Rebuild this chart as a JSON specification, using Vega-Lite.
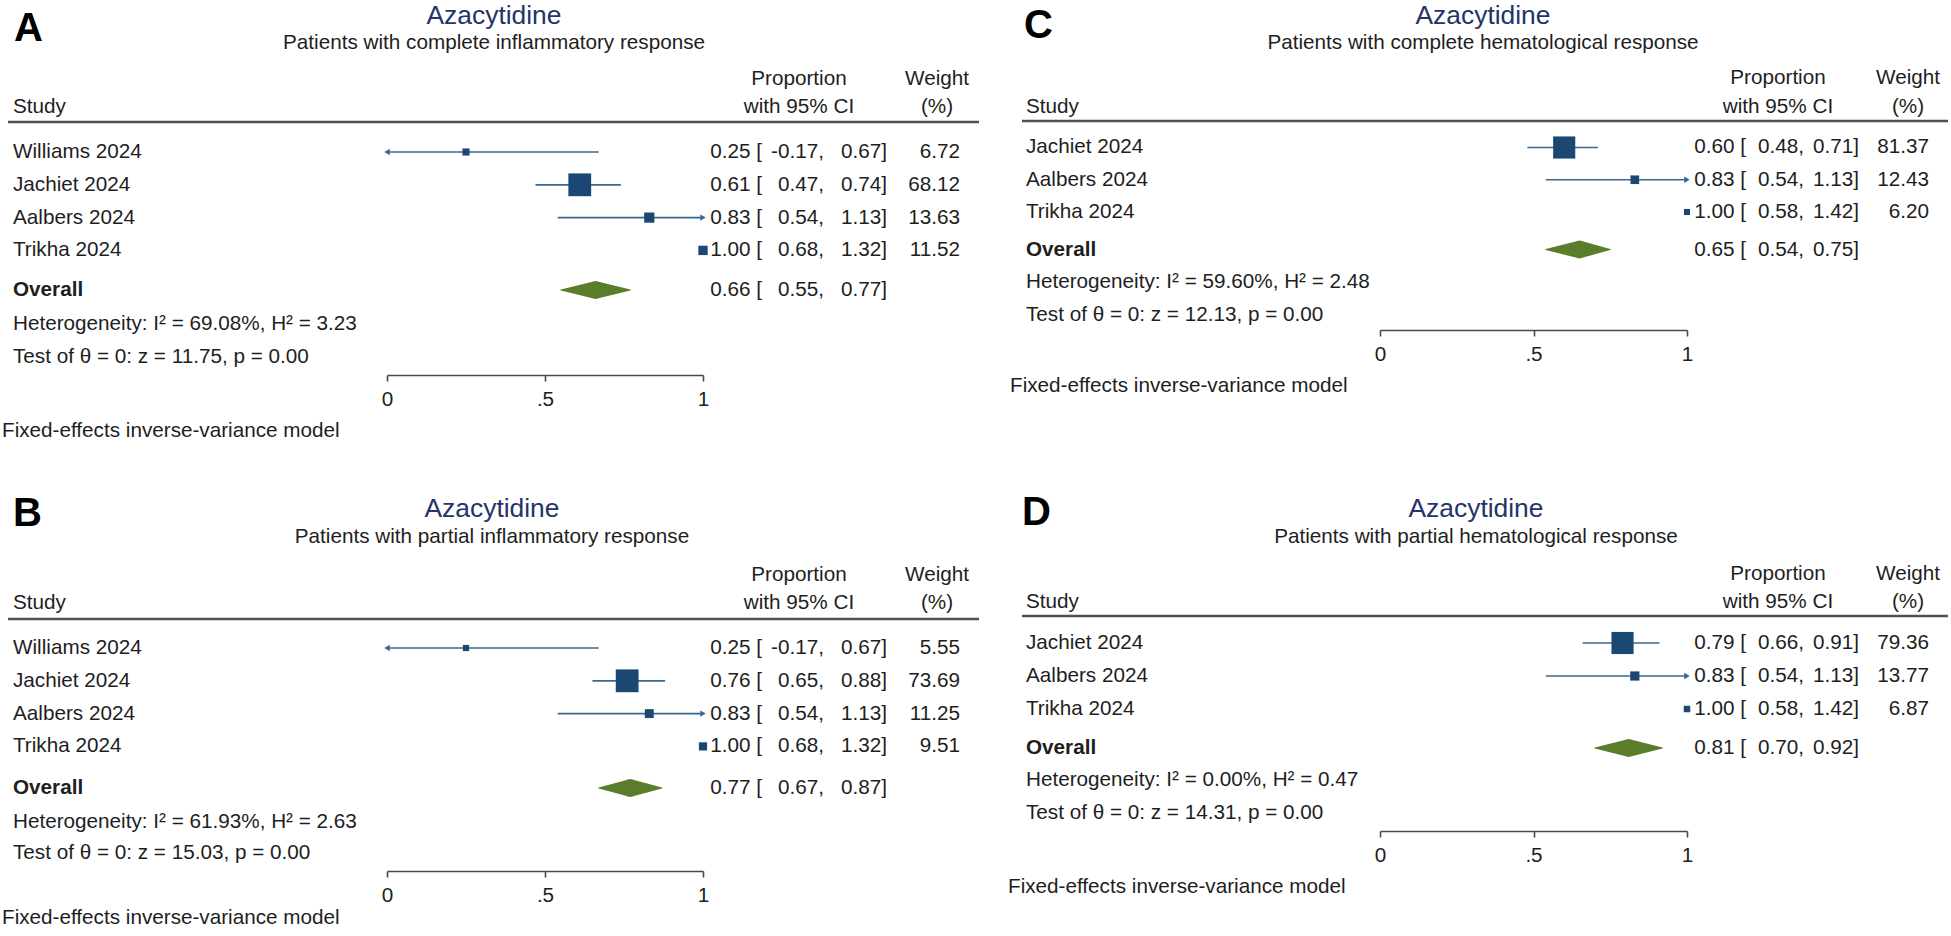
{
"$schema": "https://vega.github.io/schema/vega-lite/v6.json",
"padding": 0,
"background": "white",
"columns": 6,
"spacing": {"row": 121, "column": 0},
"bounds": "flush",
"align": "each",
"datasets": {
"sA": [
{"study":"Williams 2024","row":1,"est":0.25,"lo":-0.17,"hi":0.67,"w":6.72,"e":"0.25 [","l":"-0.17,","u":"0.67]"},
{"study":"Jachiet 2024","row":2,"est":0.61,"lo":0.47,"hi":0.74,"w":68.12,"e":"0.61 [","l":"0.47,","u":"0.74]"},
{"study":"Aalbers 2024","row":3,"est":0.83,"lo":0.54,"hi":1.13,"w":13.63,"e":"0.83 [","l":"0.54,","u":"1.13]"},
{"study":"Trikha 2024","row":4,"est":1.00,"lo":0.68,"hi":1.32,"w":11.52,"e":"1.00 [","l":"0.68,","u":"1.32]"}
],
"oA": [{"name":"Overall","est":0.66,"lo":0.55,"hi":0.77,"e":"0.66 [","l":"0.55,","u":"0.77]","het":"Heterogeneity: I² = 69.08%, H² = 3.23","test":"Test of θ = 0: z = 11.75, p = 0.00","title":"Azacytidine","sub":"Patients with complete inflammatory response","letter":"A","fixed":"Fixed-effects inverse-variance model"}],
"sB": [
{"study":"Williams 2024","row":1,"est":0.25,"lo":-0.17,"hi":0.67,"w":5.55,"e":"0.25 [","l":"-0.17,","u":"0.67]"},
{"study":"Jachiet 2024","row":2,"est":0.76,"lo":0.65,"hi":0.88,"w":73.69,"e":"0.76 [","l":"0.65,","u":"0.88]"},
{"study":"Aalbers 2024","row":3,"est":0.83,"lo":0.54,"hi":1.13,"w":11.25,"e":"0.83 [","l":"0.54,","u":"1.13]"},
{"study":"Trikha 2024","row":4,"est":1.00,"lo":0.68,"hi":1.32,"w":9.51,"e":"1.00 [","l":"0.68,","u":"1.32]"}
],
"oB": [{"name":"Overall","est":0.77,"lo":0.67,"hi":0.87,"e":"0.77 [","l":"0.67,","u":"0.87]","het":"Heterogeneity: I² = 61.93%, H² = 2.63","test":"Test of θ = 0: z = 15.03, p = 0.00","title":"Azacytidine","sub":"Patients with partial inflammatory response","letter":"B","fixed":"Fixed-effects inverse-variance model"}],
"sC": [
{"study":"Jachiet 2024","row":1,"est":0.60,"lo":0.48,"hi":0.71,"w":81.37,"e":"0.60 [","l":"0.48,","u":"0.71]"},
{"study":"Aalbers 2024","row":2,"est":0.83,"lo":0.54,"hi":1.13,"w":12.43,"e":"0.83 [","l":"0.54,","u":"1.13]"},
{"study":"Trikha 2024","row":3,"est":1.00,"lo":0.58,"hi":1.42,"w":6.20,"e":"1.00 [","l":"0.58,","u":"1.42]"}
],
"oC": [{"name":"Overall","est":0.65,"lo":0.54,"hi":0.75,"e":"0.65 [","l":"0.54,","u":"0.75]","het":"Heterogeneity: I² = 59.60%, H² = 2.48","test":"Test of θ = 0: z = 12.13, p = 0.00","title":"Azacytidine","sub":"Patients with complete hematological response","letter":"C","fixed":"Fixed-effects inverse-variance model"}],
"sD": [
{"study":"Jachiet 2024","row":1,"est":0.79,"lo":0.66,"hi":0.91,"w":79.36,"e":"0.79 [","l":"0.66,","u":"0.91]"},
{"study":"Aalbers 2024","row":2,"est":0.83,"lo":0.54,"hi":1.13,"w":13.77,"e":"0.83 [","l":"0.54,","u":"1.13]"},
{"study":"Trikha 2024","row":3,"est":1.00,"lo":0.58,"hi":1.42,"w":6.87,"e":"1.00 [","l":"0.58,","u":"1.42]"}
],
"oD": [{"name":"Overall","est":0.81,"lo":0.70,"hi":0.92,"e":"0.81 [","l":"0.70,","u":"0.92]","het":"Heterogeneity: I² = 0.00%, H² = 0.47","test":"Test of θ = 0: z = 14.31, p = 0.00","title":"Azacytidine","sub":"Patients with partial hematological response","letter":"D","fixed":"Fixed-effects inverse-variance model"}]
},
"concat": [
{"width": 387, "height": 375, "layer": [
{"data": {"name": "sA"}, "mark": {"type": "text", "align": "left"},
"encoding": {"x": {"datum": -1.18354, "type": "quantitative", "scale": {"domain": [-1.224684, 0], "nice": false, "zero": false}, "axis": null}, "y": {"field": "row", "type": "quantitative", "scale": {"domain": [-3.63415, 7.79878], "reverse": true, "nice": false, "zero": false}, "axis": null}, "text": {"field": "study"}}},
{"data": {"name": "oA"}, "mark": {"type": "text", "align": "left", "fontWeight": "bold"},
"encoding": {"x": {"datum": -1.18354, "type": "quantitative", "axis": null}, "y": {"datum": 5.2073, "type": "quantitative", "axis": null}, "text": {"field": "name"}}},
{"data": {"name": "oA"}, "mark": {"type": "text", "align": "left"},
"encoding": {"x": {"datum": -1.18354, "type": "quantitative", "axis": null}, "y": {"datum": 6.2439, "type": "quantitative", "axis": null}, "text": {"field": "het"}}},
{"data": {"name": "oA"}, "mark": {"type": "text", "align": "left"},
"encoding": {"x": {"datum": -1.18354, "type": "quantitative", "axis": null}, "y": {"datum": 7.25, "type": "quantitative", "axis": null}, "text": {"field": "test"}}},
{"data": {"name": "oA"}, "mark": {"type": "text", "align": "left", "text": "Study"},
"encoding": {"x": {"datum": -1.18354, "type": "quantitative", "axis": null}, "y": {"datum": -0.372, "type": "quantitative", "axis": null}}},
{"data": {"name": "oA"}, "mark": {"type": "rule", "color": "#505050", "strokeWidth": 2.6},
"encoding": {"x": {"datum": -1.19937, "type": "quantitative", "axis": null}, "x2": {"datum": 1.87342}, "y": {"datum": 0.0854, "type": "quantitative", "axis": null}}},
{"data": {"name": "oA"}, "mark": {"type": "text", "align": "center", "fontSize": 26.4, "color": "#253468"},
"encoding": {"x": {"datum": 0.33861, "type": "quantitative", "axis": null}, "y": {"datum": -3.1463, "type": "quantitative", "axis": null}, "text": {"field": "title"}}},
{"data": {"name": "oA"}, "mark": {"type": "text", "align": "center"},
"encoding": {"x": {"datum": 0.33861, "type": "quantitative", "axis": null}, "y": {"datum": -2.3232, "type": "quantitative", "axis": null}, "text": {"field": "sub"}}},
{"data": {"name": "oA"}, "mark": {"type": "text", "align": "left", "fontSize": 40, "fontWeight": "bold", "color": "#000000"},
"encoding": {"x": {"datum": -1.18038, "type": "quantitative", "axis": null}, "y": {"datum": -2.75, "type": "quantitative", "axis": null}, "text": {"field": "letter"}}},
{"data": {"name": "oA"}, "mark": {"type": "text", "align": "left"},
"encoding": {"x": {"datum": -1.21835, "type": "quantitative", "axis": null}, "y": {"datum": 9.506, "type": "quantitative", "axis": null}, "text": {"field": "fixed"}}},
{"data": {"name": "oA"}, "transform": [{"fold": ["lo", "est", "hi"]}],
"mark": {"type": "trail", "color": "#5a7d2c"},
"encoding": {"x": {"field": "value", "type": "quantitative", "axis": null}, "y": {"datum": 5.2073, "type": "quantitative", "axis": null}, "size": {"field": "value", "type": "quantitative", "scale": {"type": "quantize", "zero": false, "nice": false, "range": [0, 18, 0]}, "legend": null}}}
]},
{"width": 316, "height": 375, "layer": [
{"data": {"name": "sA"}, "transform": [{"filter": "datum.est < 1"}],
"mark": {"type": "rule", "color": "#3a6892", "strokeWidth": 1.7},
"encoding": {
"x": {"field": "lo", "type": "quantitative", "scale": {"domain": [0, 1], "clamp": true, "nice": false, "zero": false},
"axis": {"values": [0, 0.5, 1], "labelExpr": "datum.value == 0.5 ? '.5' : (datum.value == 0 ? '0' : '1')", "title": null, "grid": false, "domainColor": "#4a4a4a", "domainWidth": 1.6, "tickColor": "#4a4a4a", "tickWidth": 1.6, "tickSize": 6, "labelFont": "Liberation Sans", "labelFontSize": 20.7, "labelColor": "#1e1e1e", "labelPadding": 8, "labelFlush": false, "labelOverlap": false}},
"x2": {"field": "hi"},
"y": {"field": "row", "type": "quantitative", "scale": {"domain": [-3.63415, 7.79878], "reverse": true, "nice": false, "zero": false}, "axis": null}}},
{"data": {"name": "sA"}, "transform": [{"filter": "datum.lo < 0"}],
"mark": {"type": "point", "shape": "triangle-left", "filled": true, "opacity": 1, "color": "#3a6892", "size": 40},
"encoding": {"x": {"field": "lo", "type": "quantitative"}, "y": {"field": "row", "type": "quantitative"}}},
{"data": {"name": "sA"}, "transform": [{"filter": "datum.hi > 1 && datum.est < 1"}],
"mark": {"type": "point", "shape": "triangle-right", "filled": true, "opacity": 1, "color": "#3a6892", "size": 40},
"encoding": {"x": {"field": "hi", "type": "quantitative"}, "y": {"field": "row", "type": "quantitative"}}},
{"data": {"name": "sA"},
"mark": {"type": "point", "shape": "square", "filled": true, "opacity": 1, "color": "#1a4872"},
"encoding": {"x": {"field": "est", "type": "quantitative"}, "y": {"field": "row", "type": "quantitative"}, "size": {"field": "w", "type": "quantitative", "scale": {"range": [0, 520], "zero": true, "nice": false}, "legend": null}}}
]},
{"width": 305, "height": 375, "layer": [
{"data": {"name": "sA"}, "mark": {"type": "text", "align": "right"},
"encoding": {"x": {"datum": 1.18671, "type": "quantitative", "scale": {"domain": [1, 1.96519], "nice": false, "zero": false}, "axis": null}, "y": {"field": "row", "type": "quantitative", "scale": {"domain": [-3.63415, 7.79878], "reverse": true, "nice": false, "zero": false}, "axis": null}, "text": {"field": "e"}}},
{"data": {"name": "sA"}, "mark": {"type": "text", "align": "right"},
"encoding": {"x": {"datum": 1.38291, "type": "quantitative", "axis": null}, "y": {"field": "row", "type": "quantitative", "axis": null}, "text": {"field": "l"}}},
{"data": {"name": "sA"}, "mark": {"type": "text", "align": "right"},
"encoding": {"x": {"datum": 1.58228, "type": "quantitative", "axis": null}, "y": {"field": "row", "type": "quantitative", "axis": null}, "text": {"field": "u"}}},
{"data": {"name": "sA"}, "mark": {"type": "text", "align": "right"},
"encoding": {"x": {"datum": 1.81329, "type": "quantitative", "axis": null}, "y": {"field": "row", "type": "quantitative", "axis": null}, "text": {"field": "w", "type": "quantitative", "format": ".2f"}}},
{"data": {"name": "oA"}, "mark": {"type": "text", "align": "right"},
"encoding": {"x": {"datum": 1.18671, "type": "quantitative", "axis": null}, "y": {"datum": 5.2073, "type": "quantitative", "axis": null}, "text": {"field": "e"}}},
{"data": {"name": "oA"}, "mark": {"type": "text", "align": "right"},
"encoding": {"x": {"datum": 1.38291, "type": "quantitative", "axis": null}, "y": {"datum": 5.2073, "type": "quantitative", "axis": null}, "text": {"field": "l"}}},
{"data": {"name": "oA"}, "mark": {"type": "text", "align": "right"},
"encoding": {"x": {"datum": 1.58228, "type": "quantitative", "axis": null}, "y": {"datum": 5.2073, "type": "quantitative", "axis": null}, "text": {"field": "u"}}},
{"data": {"name": "oA"}, "mark": {"type": "text", "align": "center", "text": "Proportion"},
"encoding": {"x": {"datum": 1.3038, "type": "quantitative", "axis": null}, "y": {"datum": -1.2256, "type": "quantitative", "axis": null}}},
{"data": {"name": "oA"}, "mark": {"type": "text", "align": "center", "text": "with 95% CI"},
"encoding": {"x": {"datum": 1.3038, "type": "quantitative", "axis": null}, "y": {"datum": -0.372, "type": "quantitative", "axis": null}}},
{"data": {"name": "oA"}, "mark": {"type": "text", "align": "center", "text": "Weight"},
"encoding": {"x": {"datum": 1.74051, "type": "quantitative", "axis": null}, "y": {"datum": -1.2256, "type": "quantitative", "axis": null}}},
{"data": {"name": "oA"}, "mark": {"type": "text", "align": "center", "text": "(%)"},
"encoding": {"x": {"datum": 1.74051, "type": "quantitative", "axis": null}, "y": {"datum": -0.372, "type": "quantitative", "axis": null}}}
]},
{"width": 372, "height": 330, "layer": [
{"data": {"name": "sC"}, "mark": {"type": "text", "align": "left"},
"encoding": {"x": {"datum": -1.15309, "type": "quantitative", "scale": {"domain": [-1.211726, 0], "nice": false, "zero": false}, "axis": null}, "y": {"field": "row", "type": "quantitative", "scale": {"domain": [-3.5736, 6.6589], "reverse": true, "nice": false, "zero": false}, "axis": null}, "text": {"field": "study"}}},
{"data": {"name": "oC"}, "mark": {"type": "text", "align": "left", "fontWeight": "bold"},
"encoding": {"x": {"datum": -1.15309, "type": "quantitative", "axis": null}, "y": {"datum": 4.1628, "type": "quantitative", "axis": null}, "text": {"field": "name"}}},
{"data": {"name": "oC"}, "mark": {"type": "text", "align": "left"},
"encoding": {"x": {"datum": -1.15309, "type": "quantitative", "axis": null}, "y": {"datum": 5.1705, "type": "quantitative", "axis": null}, "text": {"field": "het"}}},
{"data": {"name": "oC"}, "mark": {"type": "text", "align": "left"},
"encoding": {"x": {"datum": -1.15309, "type": "quantitative", "axis": null}, "y": {"datum": 6.1938, "type": "quantitative", "axis": null}, "text": {"field": "test"}}},
{"data": {"name": "oC"}, "mark": {"type": "text", "align": "left", "text": "Study"},
"encoding": {"x": {"datum": -1.15309, "type": "quantitative", "axis": null}, "y": {"datum": -0.2558, "type": "quantitative", "axis": null}}},
{"data": {"name": "oC"}, "mark": {"type": "rule", "color": "#505050", "strokeWidth": 2.6},
"encoding": {"x": {"datum": -1.16612, "type": "quantitative", "axis": null}, "x2": {"datum": 1.85016}, "y": {"datum": 0.1783, "type": "quantitative", "axis": null}}},
{"data": {"name": "oC"}, "mark": {"type": "text", "align": "center", "fontSize": 26.4, "color": "#253468"},
"encoding": {"x": {"datum": 0.3355, "type": "quantitative", "axis": null}, "y": {"datum": -3.0775, "type": "quantitative", "axis": null}, "text": {"field": "title"}}},
{"data": {"name": "oC"}, "mark": {"type": "text", "align": "center"},
"encoding": {"x": {"datum": 0.3355, "type": "quantitative", "axis": null}, "y": {"datum": -2.2403, "type": "quantitative", "axis": null}, "text": {"field": "sub"}}},
{"data": {"name": "oC"}, "mark": {"type": "text", "align": "left", "fontSize": 40, "fontWeight": "bold", "color": "#000000"},
"encoding": {"x": {"datum": -1.15961, "type": "quantitative", "axis": null}, "y": {"datum": -2.7674, "type": "quantitative", "axis": null}, "text": {"field": "letter"}}},
{"data": {"name": "oC"}, "mark": {"type": "text", "align": "left"},
"encoding": {"x": {"datum": -1.20521, "type": "quantitative", "axis": null}, "y": {"datum": 8.3953, "type": "quantitative", "axis": null}, "text": {"field": "fixed"}}},
{"data": {"name": "oC"}, "transform": [{"fold": ["lo", "est", "hi"]}],
"mark": {"type": "trail", "color": "#5a7d2c"},
"encoding": {"x": {"field": "value", "type": "quantitative", "axis": null}, "y": {"datum": 4.1628, "type": "quantitative", "axis": null}, "size": {"field": "value", "type": "quantitative", "scale": {"type": "quantize", "zero": false, "nice": false, "range": [0, 18, 0]}, "legend": null}}}
]},
{"width": 307, "height": 330, "layer": [
{"data": {"name": "sC"}, "transform": [{"filter": "datum.est < 1"}],
"mark": {"type": "rule", "color": "#3a6892", "strokeWidth": 1.7},
"encoding": {
"x": {"field": "lo", "type": "quantitative", "scale": {"domain": [0, 1], "clamp": true, "nice": false, "zero": false},
"axis": {"values": [0, 0.5, 1], "labelExpr": "datum.value == 0.5 ? '.5' : (datum.value == 0 ? '0' : '1')", "title": null, "grid": false, "domainColor": "#4a4a4a", "domainWidth": 1.6, "tickColor": "#4a4a4a", "tickWidth": 1.6, "tickSize": 6, "labelFont": "Liberation Sans", "labelFontSize": 20.7, "labelColor": "#1e1e1e", "labelPadding": 8, "labelFlush": false, "labelOverlap": false}},
"x2": {"field": "hi"},
"y": {"field": "row", "type": "quantitative", "scale": {"domain": [-3.5736, 6.6589], "reverse": true, "nice": false, "zero": false}, "axis": null}}},
{"data": {"name": "sC"}, "transform": [{"filter": "datum.lo < 0"}],
"mark": {"type": "point", "shape": "triangle-left", "filled": true, "opacity": 1, "color": "#3a6892", "size": 40},
"encoding": {"x": {"field": "lo", "type": "quantitative"}, "y": {"field": "row", "type": "quantitative"}}},
{"data": {"name": "sC"}, "transform": [{"filter": "datum.hi > 1 && datum.est < 1"}],
"mark": {"type": "point", "shape": "triangle-right", "filled": true, "opacity": 1, "color": "#3a6892", "size": 40},
"encoding": {"x": {"field": "hi", "type": "quantitative"}, "y": {"field": "row", "type": "quantitative"}}},
{"data": {"name": "sC"},
"mark": {"type": "point", "shape": "square", "filled": true, "opacity": 1, "color": "#1a4872"},
"encoding": {"x": {"field": "est", "type": "quantitative"}, "y": {"field": "row", "type": "quantitative"}, "size": {"field": "w", "type": "quantitative", "scale": {"range": [0, 490], "zero": true, "nice": false}, "legend": null}}}
]},
{"width": 264, "height": 330, "layer": [
{"data": {"name": "sC"}, "mark": {"type": "text", "align": "right"},
"encoding": {"x": {"datum": 1.19218, "type": "quantitative", "scale": {"domain": [1, 1.859935], "nice": false, "zero": false}, "axis": null}, "y": {"field": "row", "type": "quantitative", "scale": {"domain": [-3.5736, 6.6589], "reverse": true, "nice": false, "zero": false}, "axis": null}, "text": {"field": "e"}}},
{"data": {"name": "sC"}, "mark": {"type": "text", "align": "right"},
"encoding": {"x": {"datum": 1.38111, "type": "quantitative", "axis": null}, "y": {"field": "row", "type": "quantitative", "axis": null}, "text": {"field": "l"}}},
{"data": {"name": "sC"}, "mark": {"type": "text", "align": "right"},
"encoding": {"x": {"datum": 1.56026, "type": "quantitative", "axis": null}, "y": {"field": "row", "type": "quantitative", "axis": null}, "text": {"field": "u"}}},
{"data": {"name": "sC"}, "mark": {"type": "text", "align": "right"},
"encoding": {"x": {"datum": 1.78827, "type": "quantitative", "axis": null}, "y": {"field": "row", "type": "quantitative", "axis": null}, "text": {"field": "w", "type": "quantitative", "format": ".2f"}}},
{"data": {"name": "oC"}, "mark": {"type": "text", "align": "right"},
"encoding": {"x": {"datum": 1.19218, "type": "quantitative", "axis": null}, "y": {"datum": 4.1628, "type": "quantitative", "axis": null}, "text": {"field": "e"}}},
{"data": {"name": "oC"}, "mark": {"type": "text", "align": "right"},
"encoding": {"x": {"datum": 1.38111, "type": "quantitative", "axis": null}, "y": {"datum": 4.1628, "type": "quantitative", "axis": null}, "text": {"field": "l"}}},
{"data": {"name": "oC"}, "mark": {"type": "text", "align": "right"},
"encoding": {"x": {"datum": 1.56026, "type": "quantitative", "axis": null}, "y": {"datum": 4.1628, "type": "quantitative", "axis": null}, "text": {"field": "u"}}},
{"data": {"name": "oC"}, "mark": {"type": "text", "align": "center", "text": "Proportion"},
"encoding": {"x": {"datum": 1.29642, "type": "quantitative", "axis": null}, "y": {"datum": -1.155, "type": "quantitative", "axis": null}}},
{"data": {"name": "oC"}, "mark": {"type": "text", "align": "center", "text": "with 95% CI"},
"encoding": {"x": {"datum": 1.29642, "type": "quantitative", "axis": null}, "y": {"datum": -0.2558, "type": "quantitative", "axis": null}}},
{"data": {"name": "oC"}, "mark": {"type": "text", "align": "center", "text": "Weight"},
"encoding": {"x": {"datum": 1.71987, "type": "quantitative", "axis": null}, "y": {"datum": -1.155, "type": "quantitative", "axis": null}}},
{"data": {"name": "oC"}, "mark": {"type": "text", "align": "center", "text": "(%)"},
"encoding": {"x": {"datum": 1.71987, "type": "quantitative", "axis": null}, "y": {"datum": -0.2558, "type": "quantitative", "axis": null}}}
]},
{"width": 387, "height": 375, "layer": [
{"data": {"name": "sB"}, "mark": {"type": "text", "align": "left"},
"encoding": {"x": {"datum": -1.18354, "type": "quantitative", "scale": {"domain": [-1.224684, 0], "nice": false, "zero": false}, "axis": null}, "y": {"field": "row", "type": "quantitative", "scale": {"domain": [-3.63415, 7.79878], "reverse": true, "nice": false, "zero": false}, "axis": null}, "text": {"field": "study"}}},
{"data": {"name": "oB"}, "mark": {"type": "text", "align": "left", "fontWeight": "bold"},
"encoding": {"x": {"datum": -1.18354, "type": "quantitative", "axis": null}, "y": {"datum": 5.2683, "type": "quantitative", "axis": null}, "text": {"field": "name"}}},
{"data": {"name": "oB"}, "mark": {"type": "text", "align": "left"},
"encoding": {"x": {"datum": -1.18354, "type": "quantitative", "axis": null}, "y": {"datum": 6.3049, "type": "quantitative", "axis": null}, "text": {"field": "het"}}},
{"data": {"name": "oB"}, "mark": {"type": "text", "align": "left"},
"encoding": {"x": {"datum": -1.18354, "type": "quantitative", "axis": null}, "y": {"datum": 7.25, "type": "quantitative", "axis": null}, "text": {"field": "test"}}},
{"data": {"name": "oB"}, "mark": {"type": "text", "align": "left", "text": "Study"},
"encoding": {"x": {"datum": -1.18354, "type": "quantitative", "axis": null}, "y": {"datum": -0.372, "type": "quantitative", "axis": null}}},
{"data": {"name": "oB"}, "mark": {"type": "rule", "color": "#505050", "strokeWidth": 2.6},
"encoding": {"x": {"datum": -1.19937, "type": "quantitative", "axis": null}, "x2": {"datum": 1.87342}, "y": {"datum": 0.1159, "type": "quantitative", "axis": null}}},
{"data": {"name": "oB"}, "mark": {"type": "text", "align": "center", "fontSize": 26.4, "color": "#253468"},
"encoding": {"x": {"datum": 0.33228, "type": "quantitative", "axis": null}, "y": {"datum": -3.2378, "type": "quantitative", "axis": null}, "text": {"field": "title"}}},
{"data": {"name": "oB"}, "mark": {"type": "text", "align": "center"},
"encoding": {"x": {"datum": 0.33228, "type": "quantitative", "axis": null}, "y": {"datum": -2.3841, "type": "quantitative", "axis": null}, "text": {"field": "sub"}}},
{"data": {"name": "oB"}, "mark": {"type": "text", "align": "left", "fontSize": 40, "fontWeight": "bold", "color": "#000000"},
"encoding": {"x": {"datum": -1.18354, "type": "quantitative", "axis": null}, "y": {"datum": -3.1006, "type": "quantitative", "axis": null}, "text": {"field": "letter"}}},
{"data": {"name": "oB"}, "mark": {"type": "text", "align": "left"},
"encoding": {"x": {"datum": -1.21835, "type": "quantitative", "axis": null}, "y": {"datum": 9.2317, "type": "quantitative", "axis": null}, "text": {"field": "fixed"}}},
{"data": {"name": "oB"}, "transform": [{"fold": ["lo", "est", "hi"]}],
"mark": {"type": "trail", "color": "#5a7d2c"},
"encoding": {"x": {"field": "value", "type": "quantitative", "axis": null}, "y": {"datum": 5.2683, "type": "quantitative", "axis": null}, "size": {"field": "value", "type": "quantitative", "scale": {"type": "quantize", "zero": false, "nice": false, "range": [0, 18, 0]}, "legend": null}}}
]},
{"width": 316, "height": 375, "layer": [
{"data": {"name": "sB"}, "transform": [{"filter": "datum.est < 1"}],
"mark": {"type": "rule", "color": "#3a6892", "strokeWidth": 1.7},
"encoding": {
"x": {"field": "lo", "type": "quantitative", "scale": {"domain": [0, 1], "clamp": true, "nice": false, "zero": false},
"axis": {"values": [0, 0.5, 1], "labelExpr": "datum.value == 0.5 ? '.5' : (datum.value == 0 ? '0' : '1')", "title": null, "grid": false, "domainColor": "#4a4a4a", "domainWidth": 1.6, "tickColor": "#4a4a4a", "tickWidth": 1.6, "tickSize": 6, "labelFont": "Liberation Sans", "labelFontSize": 20.7, "labelColor": "#1e1e1e", "labelPadding": 8, "labelFlush": false, "labelOverlap": false}},
"x2": {"field": "hi"},
"y": {"field": "row", "type": "quantitative", "scale": {"domain": [-3.63415, 7.79878], "reverse": true, "nice": false, "zero": false}, "axis": null}}},
{"data": {"name": "sB"}, "transform": [{"filter": "datum.lo < 0"}],
"mark": {"type": "point", "shape": "triangle-left", "filled": true, "opacity": 1, "color": "#3a6892", "size": 40},
"encoding": {"x": {"field": "lo", "type": "quantitative"}, "y": {"field": "row", "type": "quantitative"}}},
{"data": {"name": "sB"}, "transform": [{"filter": "datum.hi > 1 && datum.est < 1"}],
"mark": {"type": "point", "shape": "triangle-right", "filled": true, "opacity": 1, "color": "#3a6892", "size": 40},
"encoding": {"x": {"field": "hi", "type": "quantitative"}, "y": {"field": "row", "type": "quantitative"}}},
{"data": {"name": "sB"},
"mark": {"type": "point", "shape": "square", "filled": true, "opacity": 1, "color": "#1a4872"},
"encoding": {"x": {"field": "est", "type": "quantitative"}, "y": {"field": "row", "type": "quantitative"}, "size": {"field": "w", "type": "quantitative", "scale": {"range": [0, 520], "zero": true, "nice": false}, "legend": null}}}
]},
{"width": 305, "height": 375, "layer": [
{"data": {"name": "sB"}, "mark": {"type": "text", "align": "right"},
"encoding": {"x": {"datum": 1.18671, "type": "quantitative", "scale": {"domain": [1, 1.96519], "nice": false, "zero": false}, "axis": null}, "y": {"field": "row", "type": "quantitative", "scale": {"domain": [-3.63415, 7.79878], "reverse": true, "nice": false, "zero": false}, "axis": null}, "text": {"field": "e"}}},
{"data": {"name": "sB"}, "mark": {"type": "text", "align": "right"},
"encoding": {"x": {"datum": 1.38291, "type": "quantitative", "axis": null}, "y": {"field": "row", "type": "quantitative", "axis": null}, "text": {"field": "l"}}},
{"data": {"name": "sB"}, "mark": {"type": "text", "align": "right"},
"encoding": {"x": {"datum": 1.58228, "type": "quantitative", "axis": null}, "y": {"field": "row", "type": "quantitative", "axis": null}, "text": {"field": "u"}}},
{"data": {"name": "sB"}, "mark": {"type": "text", "align": "right"},
"encoding": {"x": {"datum": 1.81329, "type": "quantitative", "axis": null}, "y": {"field": "row", "type": "quantitative", "axis": null}, "text": {"field": "w", "type": "quantitative", "format": ".2f"}}},
{"data": {"name": "oB"}, "mark": {"type": "text", "align": "right"},
"encoding": {"x": {"datum": 1.18671, "type": "quantitative", "axis": null}, "y": {"datum": 5.2683, "type": "quantitative", "axis": null}, "text": {"field": "e"}}},
{"data": {"name": "oB"}, "mark": {"type": "text", "align": "right"},
"encoding": {"x": {"datum": 1.38291, "type": "quantitative", "axis": null}, "y": {"datum": 5.2683, "type": "quantitative", "axis": null}, "text": {"field": "l"}}},
{"data": {"name": "oB"}, "mark": {"type": "text", "align": "right"},
"encoding": {"x": {"datum": 1.58228, "type": "quantitative", "axis": null}, "y": {"datum": 5.2683, "type": "quantitative", "axis": null}, "text": {"field": "u"}}},
{"data": {"name": "oB"}, "mark": {"type": "text", "align": "center", "text": "Proportion"},
"encoding": {"x": {"datum": 1.3038, "type": "quantitative", "axis": null}, "y": {"datum": -1.2256, "type": "quantitative", "axis": null}}},
{"data": {"name": "oB"}, "mark": {"type": "text", "align": "center", "text": "with 95% CI"},
"encoding": {"x": {"datum": 1.3038, "type": "quantitative", "axis": null}, "y": {"datum": -0.372, "type": "quantitative", "axis": null}}},
{"data": {"name": "oB"}, "mark": {"type": "text", "align": "center", "text": "Weight"},
"encoding": {"x": {"datum": 1.74051, "type": "quantitative", "axis": null}, "y": {"datum": -1.2256, "type": "quantitative", "axis": null}}},
{"data": {"name": "oB"}, "mark": {"type": "text", "align": "center", "text": "(%)"},
"encoding": {"x": {"datum": 1.74051, "type": "quantitative", "axis": null}, "y": {"datum": -0.372, "type": "quantitative", "axis": null}}}
]},
{"width": 372, "height": 335, "layer": [
{"data": {"name": "sD"}, "mark": {"type": "text", "align": "left"},
"encoding": {"x": {"datum": -1.15309, "type": "quantitative", "scale": {"domain": [-1.211726, 0], "nice": false, "zero": false}, "axis": null}, "y": {"field": "row", "type": "quantitative", "scale": {"domain": [-3.4545, 6.697], "reverse": true, "nice": false, "zero": false}, "axis": null}, "text": {"field": "study"}}},
{"data": {"name": "oD"}, "mark": {"type": "text", "align": "left", "fontWeight": "bold"},
"encoding": {"x": {"datum": -1.15309, "type": "quantitative", "axis": null}, "y": {"datum": 4.1818, "type": "quantitative", "axis": null}, "text": {"field": "name"}}},
{"data": {"name": "oD"}, "mark": {"type": "text", "align": "left"},
"encoding": {"x": {"datum": -1.15309, "type": "quantitative", "axis": null}, "y": {"datum": 5.1515, "type": "quantitative", "axis": null}, "text": {"field": "het"}}},
{"data": {"name": "oD"}, "mark": {"type": "text", "align": "left"},
"encoding": {"x": {"datum": -1.15309, "type": "quantitative", "axis": null}, "y": {"datum": 6.1515, "type": "quantitative", "axis": null}, "text": {"field": "test"}}},
{"data": {"name": "oD"}, "mark": {"type": "text", "align": "left", "text": "Study"},
"encoding": {"x": {"datum": -1.15309, "type": "quantitative", "axis": null}, "y": {"datum": -0.2424, "type": "quantitative", "axis": null}}},
{"data": {"name": "oD"}, "mark": {"type": "rule", "color": "#505050", "strokeWidth": 2.6},
"encoding": {"x": {"datum": -1.16612, "type": "quantitative", "axis": null}, "x2": {"datum": 1.85016}, "y": {"datum": 0.1818, "type": "quantitative", "axis": null}}},
{"data": {"name": "oD"}, "mark": {"type": "text", "align": "center", "fontSize": 26.4, "color": "#253468"},
"encoding": {"x": {"datum": 0.3127, "type": "quantitative", "axis": null}, "y": {"datum": -3.0606, "type": "quantitative", "axis": null}, "text": {"field": "title"}}},
{"data": {"name": "oD"}, "mark": {"type": "text", "align": "center"},
"encoding": {"x": {"datum": 0.3127, "type": "quantitative", "axis": null}, "y": {"datum": -2.2121, "type": "quantitative", "axis": null}, "text": {"field": "sub"}}},
{"data": {"name": "oD"}, "mark": {"type": "text", "align": "left", "fontSize": 40, "fontWeight": "bold", "color": "#000000"},
"encoding": {"x": {"datum": -1.16612, "type": "quantitative", "axis": null}, "y": {"datum": -2.9394, "type": "quantitative", "axis": null}, "text": {"field": "letter"}}},
{"data": {"name": "oD"}, "mark": {"type": "text", "align": "left"},
"encoding": {"x": {"datum": -1.21173, "type": "quantitative", "axis": null}, "y": {"datum": 8.3939, "type": "quantitative", "axis": null}, "text": {"field": "fixed"}}},
{"data": {"name": "oD"}, "transform": [{"fold": ["lo", "est", "hi"]}],
"mark": {"type": "trail", "color": "#5a7d2c"},
"encoding": {"x": {"field": "value", "type": "quantitative", "axis": null}, "y": {"datum": 4.1818, "type": "quantitative", "axis": null}, "size": {"field": "value", "type": "quantitative", "scale": {"type": "quantize", "zero": false, "nice": false, "range": [0, 18, 0]}, "legend": null}}}
]},
{"width": 307, "height": 335, "layer": [
{"data": {"name": "sD"}, "transform": [{"filter": "datum.est < 1"}],
"mark": {"type": "rule", "color": "#3a6892", "strokeWidth": 1.7},
"encoding": {
"x": {"field": "lo", "type": "quantitative", "scale": {"domain": [0, 1], "clamp": true, "nice": false, "zero": false},
"axis": {"values": [0, 0.5, 1], "labelExpr": "datum.value == 0.5 ? '.5' : (datum.value == 0 ? '0' : '1')", "title": null, "grid": false, "domainColor": "#4a4a4a", "domainWidth": 1.6, "tickColor": "#4a4a4a", "tickWidth": 1.6, "tickSize": 6, "labelFont": "Liberation Sans", "labelFontSize": 20.7, "labelColor": "#1e1e1e", "labelPadding": 8, "labelFlush": false, "labelOverlap": false}},
"x2": {"field": "hi"},
"y": {"field": "row", "type": "quantitative", "scale": {"domain": [-3.4545, 6.697], "reverse": true, "nice": false, "zero": false}, "axis": null}}},
{"data": {"name": "sD"}, "transform": [{"filter": "datum.lo < 0"}],
"mark": {"type": "point", "shape": "triangle-left", "filled": true, "opacity": 1, "color": "#3a6892", "size": 40},
"encoding": {"x": {"field": "lo", "type": "quantitative"}, "y": {"field": "row", "type": "quantitative"}}},
{"data": {"name": "sD"}, "transform": [{"filter": "datum.hi > 1 && datum.est < 1"}],
"mark": {"type": "point", "shape": "triangle-right", "filled": true, "opacity": 1, "color": "#3a6892", "size": 40},
"encoding": {"x": {"field": "hi", "type": "quantitative"}, "y": {"field": "row", "type": "quantitative"}}},
{"data": {"name": "sD"},
"mark": {"type": "point", "shape": "square", "filled": true, "opacity": 1, "color": "#1a4872"},
"encoding": {"x": {"field": "est", "type": "quantitative"}, "y": {"field": "row", "type": "quantitative"}, "size": {"field": "w", "type": "quantitative", "scale": {"range": [0, 490], "zero": true, "nice": false}, "legend": null}}}
]},
{"width": 264, "height": 335, "layer": [
{"data": {"name": "sD"}, "mark": {"type": "text", "align": "right"},
"encoding": {"x": {"datum": 1.19218, "type": "quantitative", "scale": {"domain": [1, 1.859935], "nice": false, "zero": false}, "axis": null}, "y": {"field": "row", "type": "quantitative", "scale": {"domain": [-3.4545, 6.697], "reverse": true, "nice": false, "zero": false}, "axis": null}, "text": {"field": "e"}}},
{"data": {"name": "sD"}, "mark": {"type": "text", "align": "right"},
"encoding": {"x": {"datum": 1.38111, "type": "quantitative", "axis": null}, "y": {"field": "row", "type": "quantitative", "axis": null}, "text": {"field": "l"}}},
{"data": {"name": "sD"}, "mark": {"type": "text", "align": "right"},
"encoding": {"x": {"datum": 1.56026, "type": "quantitative", "axis": null}, "y": {"field": "row", "type": "quantitative", "axis": null}, "text": {"field": "u"}}},
{"data": {"name": "sD"}, "mark": {"type": "text", "align": "right"},
"encoding": {"x": {"datum": 1.78827, "type": "quantitative", "axis": null}, "y": {"field": "row", "type": "quantitative", "axis": null}, "text": {"field": "w", "type": "quantitative", "format": ".2f"}}},
{"data": {"name": "oD"}, "mark": {"type": "text", "align": "right"},
"encoding": {"x": {"datum": 1.19218, "type": "quantitative", "axis": null}, "y": {"datum": 4.1818, "type": "quantitative", "axis": null}, "text": {"field": "e"}}},
{"data": {"name": "oD"}, "mark": {"type": "text", "align": "right"},
"encoding": {"x": {"datum": 1.38111, "type": "quantitative", "axis": null}, "y": {"datum": 4.1818, "type": "quantitative", "axis": null}, "text": {"field": "l"}}},
{"data": {"name": "oD"}, "mark": {"type": "text", "align": "right"},
"encoding": {"x": {"datum": 1.56026, "type": "quantitative", "axis": null}, "y": {"datum": 4.1818, "type": "quantitative", "axis": null}, "text": {"field": "u"}}},
{"data": {"name": "oD"}, "mark": {"type": "text", "align": "center", "text": "Proportion"},
"encoding": {"x": {"datum": 1.29642, "type": "quantitative", "axis": null}, "y": {"datum": -1.0909, "type": "quantitative", "axis": null}}},
{"data": {"name": "oD"}, "mark": {"type": "text", "align": "center", "text": "with 95% CI"},
"encoding": {"x": {"datum": 1.29642, "type": "quantitative", "axis": null}, "y": {"datum": -0.2424, "type": "quantitative", "axis": null}}},
{"data": {"name": "oD"}, "mark": {"type": "text", "align": "center", "text": "Weight"},
"encoding": {"x": {"datum": 1.71987, "type": "quantitative", "axis": null}, "y": {"datum": -1.0909, "type": "quantitative", "axis": null}}},
{"data": {"name": "oD"}, "mark": {"type": "text", "align": "center", "text": "(%)"},
"encoding": {"x": {"datum": 1.71987, "type": "quantitative", "axis": null}, "y": {"datum": -0.2424, "type": "quantitative", "axis": null}}}
]}
],
"config": {
"view": {"stroke": null},
"text": {"font": "Liberation Sans", "fontSize": 20.7, "color": "#1e1e1e", "baseline": "middle"}
}
}
